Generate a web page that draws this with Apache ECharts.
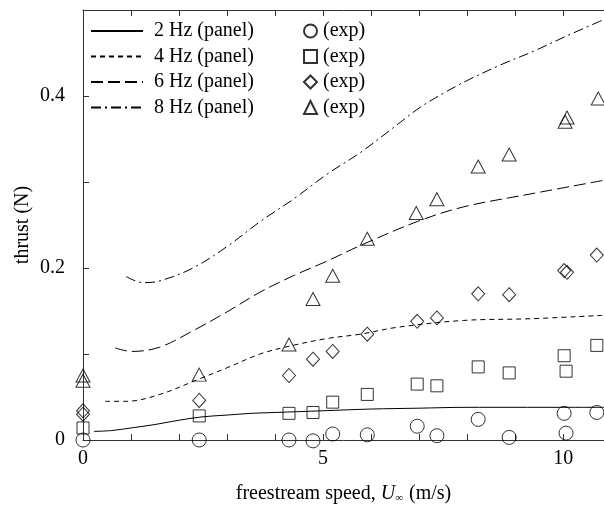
<!DOCTYPE html>
<html><head><meta charset="utf-8">
<script src="https://cdn.jsdelivr.net/npm/echarts@6/dist/echarts.min.js"></script>
<style>html,body{margin:0;padding:0;background:#fff}#c{width:604px;height:509px}</style>
</head><body><div id="c"></div>
<script>
// Panel-method curves
var panel2x = [0.23, 0.6, 1.0, 1.5, 2.0, 2.5, 3.0, 3.5, 4.0, 5.0, 6.0, 7.0, 8.0, 9.0, 10.0, 10.85];
var panel2y = [0.010, 0.011, 0.014, 0.018, 0.023, 0.027, 0.029, 0.031, 0.032, 0.034, 0.036, 0.037, 0.038, 0.038, 0.038, 0.038];
var panel4x = [0.46, 0.9, 1.6, 2.42, 3.0, 3.69, 4.29, 5.08, 5.77, 6.54, 7.92, 9.31, 10.85];
var panel4y = [0.045, 0.045, 0.053, 0.071, 0.084, 0.100, 0.109, 0.118, 0.123, 0.131, 0.139, 0.141, 0.145];
var panel6x = [0.67, 1.02, 1.6, 2.29, 3.0, 3.69, 4.38, 5.08, 5.77, 6.96, 7.92, 9.31, 10.85];
var panel6y = [0.107, 0.103, 0.108, 0.127, 0.149, 0.172, 0.191, 0.208, 0.226, 0.254, 0.271, 0.286, 0.302];
var panel8x = [0.9, 1.25, 1.6, 2.29, 3.0, 3.69, 4.38, 5.08, 5.77, 6.46, 7.0, 7.5, 8.0, 8.69, 9.38, 10.08, 10.85];
var panel8y = [0.190, 0.183, 0.185, 0.200, 0.225, 0.254, 0.280, 0.309, 0.334, 0.363, 0.386, 0.403, 0.418, 0.436, 0.452, 0.470, 0.489];
// Experimental points
var exp2x = [0, 2.42, 4.29, 4.79, 5.2, 5.92, 6.96, 7.37, 8.23, 8.875, 10.02, 10.06, 10.7];
var exp2y = [0, 0, 0, -0.001, 0.007, 0.006, 0.016, 0.005, 0.024, 0.003, 0.031, 0.008, 0.032];
var exp4x = [0, 2.42, 4.29, 4.79, 5.2, 5.92, 6.96, 7.37, 8.23, 8.875, 10.02, 10.06, 10.7];
var exp4y = [0.014, 0.028, 0.031, 0.032, 0.044, 0.053, 0.065, 0.063, 0.085, 0.078, 0.098, 0.080, 0.110];
var exp6x = [0, 0, 2.42, 4.29, 4.79, 5.2, 5.92, 6.96, 7.37, 8.23, 8.875, 10.02, 10.08, 10.7];
var exp6y = [0.034, 0.030, 0.046, 0.075, 0.094, 0.103, 0.123, 0.138, 0.142, 0.170, 0.169, 0.197, 0.195, 0.215];
var exp8x = [0, 0, 2.42, 4.29, 4.79, 5.2, 5.92, 6.94, 7.37, 8.23, 8.875, 10.04, 10.08, 10.73];
var exp8y = [0.075, 0.069, 0.076, 0.111, 0.164, 0.191, 0.234, 0.264, 0.280, 0.318, 0.332, 0.370, 0.375, 0.397];
// Labels
var panelNames = ['2 Hz (panel)', '4 Hz (panel)', '6 Hz (panel)', '8 Hz (panel)'];
var expNames = ['exp2', 'exp4', 'exp6', 'exp8'];
var xTitle = 'freestream speed, ';
var yTitle = 'thrust (N)';

function pairs(xs, ys) { return xs.map(function (x, i) { return [x, ys[i]]; }); }

var FONT = 'Liberation Serif';
var dashes = ['solid', [5, 4], [12, 5], [10, 4, 2, 4]];
var symbols = ['circle', 'rect', 'diamond', 'triangle'];
var symSizes = [14, 12, [13, 14], [14, 13]];
var px = [panel2x, panel4x, panel6x, panel8x], py = [panel2y, panel4y, panel6y, panel8y];
var ex = [exp2x, exp4x, exp6x, exp8x], ey = [exp2y, exp4y, exp6y, exp8y];

var series = [];
for (var i = 0; i < 4; i++) {
  series.push({
    name: panelNames[i], type: 'line', smooth: 0.35, symbol: 'none', showSymbol: false,
    data: pairs(px[i], py[i]), xAxisIndex: 0, yAxisIndex: 0,
    lineStyle: { color: '#000', width: 1, type: dashes[i] }, itemStyle: { color: '#000' },
    z: 2, silent: true
  });
}
for (var j = 0; j < 4; j++) {
  series.push({
    name: expNames[j], type: 'scatter', symbol: symbols[j], symbolSize: symSizes[j],
    data: pairs(ex[j], ey[j]), xAxisIndex: 0, yAxisIndex: 0, clip: false,
    itemStyle: { color: 'rgba(0,0,0,0)', borderColor: '#000', borderWidth: 1 },
    z: 3, silent: true
  });
}

var chart = echarts.init(document.getElementById('c'), null, { renderer: 'canvas' });
chart.setOption({
  animation: false,
  backgroundColor: '#fff',
  grid: { left: 83, top: 10, right: 0, bottom: 63, containLabel: false },
  legend: [
    { data: panelNames, orient: 'vertical', left: 85, top: 16, itemWidth: 52, itemHeight: 14, itemGap: 5.5,
      selectedMode: false,
      itemStyle: { opacity: 0, color: 'rgba(0,0,0,0)', borderWidth: 0 },
      textStyle: { fontFamily: FONT, fontSize: 20, color: '#000', lineHeight: 20, padding: [0, 0, 0, 6] } },
    { data: expNames, orient: 'vertical', left: 298, top: 16, itemWidth: 13, itemHeight: 13, itemGap: 5.5,
      selectedMode: false, formatter: function () { return '(exp)'; },
      textStyle: { fontFamily: FONT, fontSize: 20, color: '#000', lineHeight: 20, padding: [0, 0, 0, 1] } }
  ],
  xAxis: [
    { type: 'value', min: 0, max: 10.85, interval: 5, position: 'bottom',
      axisLine: { lineStyle: { color: '#333', width: 1 } },
      axisTick: { inside: true, length: 6, lineStyle: { color: '#333' } },
      minorTick: { show: true, splitNumber: 5, length: 6, lineStyle: { color: '#333' } },
      splitLine: { show: false },
      axisLabel: { fontFamily: FONT, fontSize: 20, color: '#000', margin: 9, showMaxLabel: false },
      name: '{a|' + xTitle + '}{i|U}{s|∞}{a| (m/s)}', nameLocation: 'middle', nameGap: 43,
      nameTextStyle: { rich: {
        a: { fontFamily: FONT, fontSize: 20, color: '#000' },
        i: { fontFamily: FONT, fontSize: 20, fontStyle: 'italic', color: '#000' },
        s: { fontFamily: FONT, fontSize: 11, color: '#000', verticalAlign: 'bottom', padding: [10, 1, 0, 0] }
      } }
    },
    { type: 'value', min: 0, max: 10.85, interval: 5, position: 'top',
      axisLine: { lineStyle: { color: '#333', width: 1 } },
      axisTick: { inside: true, length: 6, lineStyle: { color: '#333' } },
      minorTick: { show: true, splitNumber: 5, length: 6, lineStyle: { color: '#333' } },
      splitLine: { show: false }, axisLabel: { show: false } }
  ],
  yAxis: [
    { type: 'value', min: 0, max: 0.5, interval: 0.2,
      axisLine: { show: true, lineStyle: { color: '#333', width: 1 } },
      axisTick: { inside: true, length: 6, lineStyle: { color: '#333' } },
      minorTick: { show: true, splitNumber: 2, length: 6, lineStyle: { color: '#333' } },
      splitLine: { show: false },
      axisLabel: { fontFamily: FONT, fontSize: 20, color: '#000', margin: 18, showMaxLabel: false,
        formatter: function (v) { return v === 0 ? '0' : String(+v.toFixed(1)); } },
      name: yTitle, nameLocation: 'middle', nameGap: 60, nameRotate: 90, nameMoveOverlap: false,
      nameTextStyle: { fontFamily: FONT, fontSize: 20, color: '#000', align: 'center', verticalAlign: 'middle' }
    }
  ],
  series: series
});
</script></body></html>
